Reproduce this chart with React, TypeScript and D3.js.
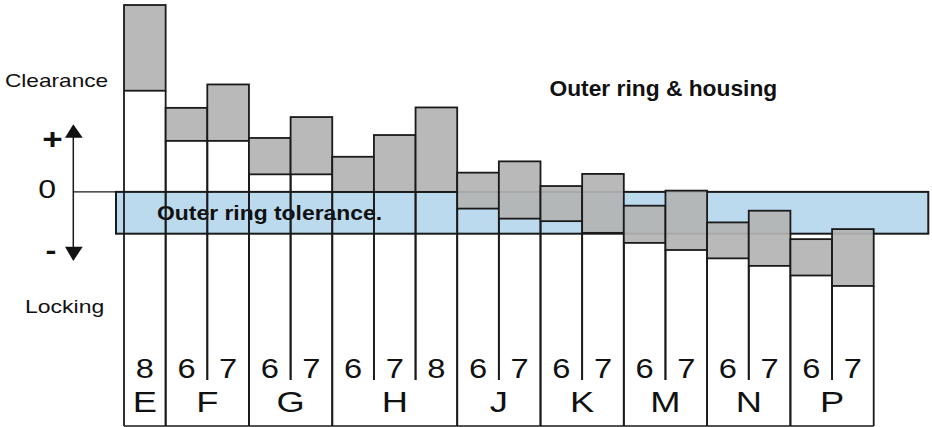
import React from "react";
import * as d3 from "d3";

const letters = ["E", "F", "F", "G", "G", "H", "H", "H", "J", "J", "K", "K", "M", "M", "N", "N", "P", "P"];
const grades = ["8", "6", "7", "6", "7", "6", "7", "8", "6", "7", "6", "7", "6", "7", "6", "7", "6", "7"];
const upper = [44.7, 20.1, 25.7, 12.9, 17.9, 8.4, 13.6, 20.2, 4.6, 7.3, 1.4, 4.3, -3.3, 0.3, -7.3, -4.5, -11.3, -8.9];
const lower = [24.2, 12.2, 12.2, 4.2, 4.2, 0, 0, 0, -4.0, -6.4, -7.0, -9.8, -12.2, -13.9, -15.9, -17.7, -20.0, -22.5];
const bandRange = [0, -10];
const groups = ["E", "F", "G", "H", "J", "K", "M", "N", "P"];

const W = 932;
const H = 427;
const FONT = "'Liberation Sans', Arial, sans-serif";
const SX = 1.21;

export default function App() {
  const keys = letters.map((l, i) => l + grades[i]);
  const x = d3.scaleBand().domain(keys).range([124, 873.7]).padding(0);
  const y = d3.scaleLinear().domain([-56, 45.9]).range([426, 0]);
  const bw = x.bandwidth();
  const yBottom = 426;
  const yDiv = 380;
  const stroke = "#1a1a1a";

  const groupSpan = groups.map((g) => {
    const idx = keys.map((k, i) => (letters[i] === g ? i : -1)).filter((i) => i >= 0);
    const x0 = x(keys[idx[0]])!;
    const x1 = x(keys[idx[idx.length - 1]])! + bw;
    return { g, idx, x0, x1 };
  });

  const st = (cx: number, cy: number) => `translate(${cx},${cy}) scale(${SX},1)`;

  return (
    <svg width={W} height={H} style={{ position: "absolute", left: 0, top: 0, background: "#fff" }} fontFamily={FONT}>
      {/* zero line */}
      <line x1={73.3} x2={116} y1={y(0)} y2={y(0)} stroke={stroke} strokeWidth={1.3} />
      {/* band */}
      <rect x={116} y={y(bandRange[0])} width={928.3 - 116} height={y(bandRange[1]) - y(bandRange[0])} fill="#bcdaee" stroke={stroke} strokeWidth={2} />
      <text transform={`translate(157,219.5) scale(1.145,1)`} fontSize={20} fontWeight="bold" fill="#111">Outer ring tolerance.</text>

      {/* column outlines */}
      {keys.map((k, i) => {
        const xl = x(k)!;
        const xr = xl + bw;
        const top = y(lower[i]);
        const isGroupStart = i === 0 || letters[i - 1] !== letters[i];
        const isGroupEnd = i === keys.length - 1 || letters[i + 1] !== letters[i];
        return (
          <g key={k}>
            <line x1={xl} x2={xl} y1={top} y2={isGroupStart ? yBottom : yDiv} stroke={stroke} strokeWidth={1.8} />
            <line x1={xr} x2={xr} y1={top} y2={isGroupEnd ? yBottom : yDiv} stroke={stroke} strokeWidth={1.8} />
          </g>
        );
      })}
      <line x1={x(keys[0])!} x2={x(keys[keys.length - 1])! + bw} y1={yBottom} y2={yBottom} stroke={stroke} strokeWidth={1.5} />

      {/* tolerance boxes */}
      {keys.map((k, i) => (
        <rect key={"b" + k} x={x(k)!} y={y(upper[i])} width={bw} height={y(lower[i]) - y(upper[i])} fill="#b4b4b4" fillOpacity={0.93} stroke={stroke} strokeWidth={1.8} />
      ))}

      {/* grade digits */}
      {keys.map((k, i) => (
        <text key={"t" + k} transform={st(x(k)! + bw / 2, 377.7)} textAnchor="middle" fontSize={27} fill="#111">{grades[i]}</text>
      ))}
      {groupSpan.map((s) => (
        <text key={"g" + s.g} transform={st((s.x0 + s.x1) / 2, 411.7)} textAnchor="middle" fontSize={30} fill="#111">{s.g}</text>
      ))}

      {/* left annotations */}
      <text transform={`translate(5,86.7) scale(${SX},1)`} fontSize={18.7} fill="#111">Clearance</text>
      <text transform={`translate(25,313.3) scale(${SX},1)`} fontSize={19} fill="#111">Locking</text>
      <text transform={st(52.5, 148.5)} textAnchor="middle" fontSize={29} fontWeight="bold" fill="#111">+</text>
      <text transform={st(47.2, 198.3)} textAnchor="middle" fontSize={26.5} fill="#111">0</text>
      <text transform={st(51, 260)} textAnchor="middle" fontSize={27} fontWeight="bold" fill="#111">-</text>
      <line x1={73.3} x2={73.3} y1={135} y2={249} stroke={stroke} strokeWidth={1.5} />
      <polygon points="73.3,124.3 65,137.7 82.7,137.7" fill="#111" />
      <polygon points="73.3,261 65,246.7 82.7,246.7" fill="#111" />

      <text transform={`translate(549.5,95.7) scale(1.055,1)`} fontSize={21.6} fontWeight="bold" fill="#111">Outer ring &amp; housing</text>
    </svg>
  );
}
